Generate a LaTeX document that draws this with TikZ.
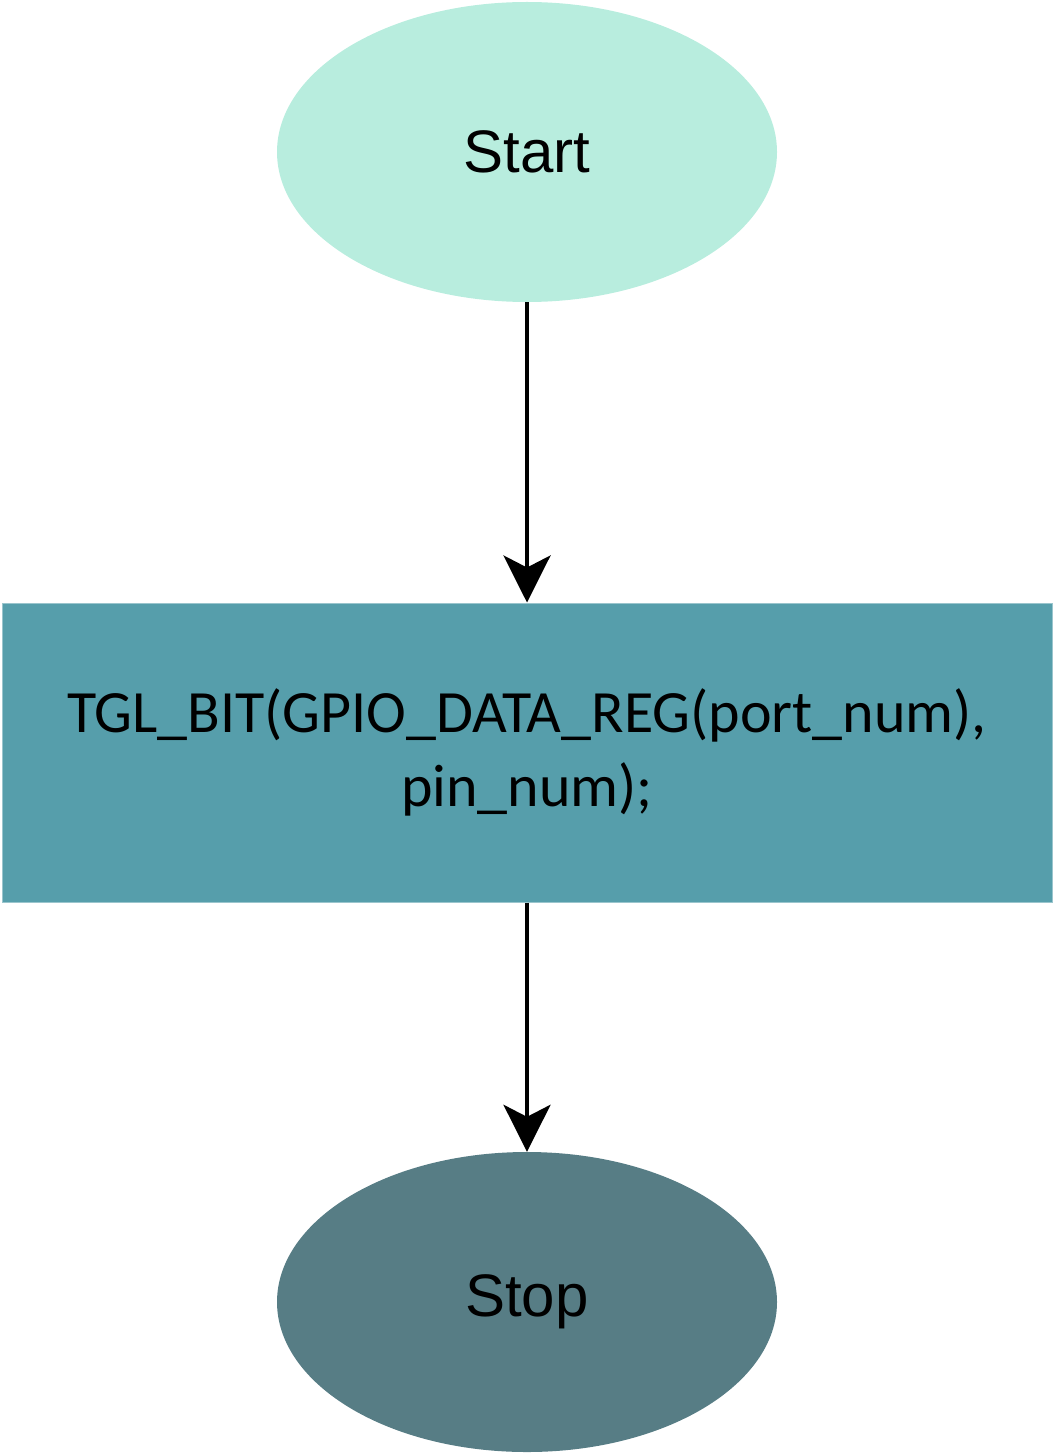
\documentclass[tikz,border=0pt]{standalone}
\usepackage{fontspec}
\setmainfont{Liberation Sans}
\newfontfamily\calib{Carlito}
\usetikzlibrary{shapes.geometric,arrows.meta}
\definecolor{startc}{HTML}{B8EDDE}
\definecolor{procc}{HTML}{569EAB}
\definecolor{stopc}{HTML}{577D85}
\tikzset{
  term/.style={ellipse, minimum width=500pt, minimum height=300pt, inner sep=0pt, font=\fontsize{60}{68}\selectfont},
  proc/.style={rectangle, minimum width=1050pt, minimum height=299pt, inner sep=0pt, align=center, font=\calib\fontsize{60}{74}\selectfont},
  conn/.style={line width=4pt, -{Stealth[length=47pt,width=47pt,inset=12pt]}}
}
\begin{document}
\begin{tikzpicture}[x=1pt,y=-1pt]
\useasboundingbox (0,0) rectangle (1055,1455);
\node[term, fill=startc] (start) at (527,152) {Start};
\node[proc, fill=procc, draw=procc!60!white, line width=1pt] (tgl) at (527,752.5) {TGL\_BIT(GPIO\_DATA\_REG(port\_num),\\pin\_num);};
\node[term, fill=stopc] (stop) at (527,1302) {Stop};
\draw[conn] (start) -- (tgl);
\draw[conn] (tgl) -- (stop);
\end{tikzpicture}
\end{document}
